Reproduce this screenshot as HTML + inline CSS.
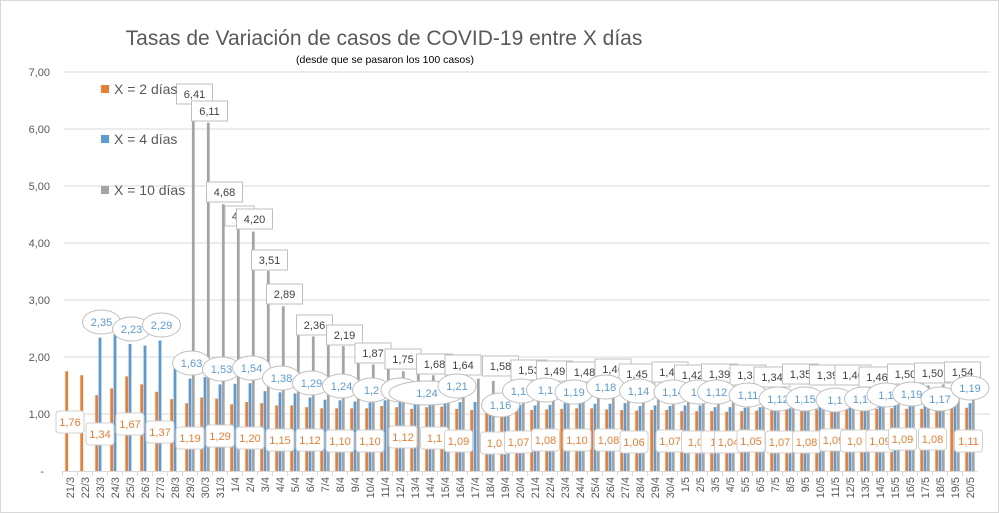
<!DOCTYPE html>
<html><head><meta charset="utf-8"><style>
html,body{margin:0;padding:0;background:#fff}
body{width:999px;height:513px;overflow:hidden;font-family:"Liberation Sans",sans-serif}
#wrap{position:absolute;left:0;top:0;width:997px;height:511px;border:1px solid #d9d9d9}
</style></head><body>
<div id="wrap"></div>
<svg id="chart" width="999" height="513" style="position:absolute;left:0;top:0"></svg>
<script>
const dates=["21/3","22/3","23/3","24/3","25/3","26/3","27/3","28/3","29/3","30/3","31/3","1/4","2/4","3/4","4/4","5/4","6/4","7/4","8/4","9/4","10/4","11/4","12/4","13/4","14/4","15/4","16/4","17/4","18/4","19/4","20/4","21/4","22/4","23/4","24/4","25/4","26/4","27/4","28/4","29/4","30/4","1/5","2/5","3/5","4/5","5/5","6/5","7/5","8/5","9/5","10/5","11/5","12/5","13/5","14/5","15/5","16/5","17/5","18/5","19/5","20/5"];
const x2=[1.75,1.68,1.33,1.45,1.66,1.52,1.39,1.26,1.19,1.29,1.27,1.17,1.21,1.19,1.15,1.15,1.12,1.10,1.10,1.10,1.10,1.14,1.12,1.09,1.12,1.13,1.09,1.07,1.06,1.05,1.07,1.07,1.08,1.09,1.10,1.10,1.08,1.07,1.06,1.07,1.07,1.05,1.05,1.05,1.04,1.05,1.06,1.07,1.08,1.08,1.08,1.09,1.09,1.09,1.09,1.10,1.09,1.09,1.08,1.10,1.11];
const x4=[0,0,2.34,2.40,2.23,2.20,2.29,1.80,1.62,1.65,1.52,1.53,1.54,1.40,1.38,1.36,1.29,1.25,1.24,1.22,1.20,1.24,1.24,1.19,1.24,1.21,1.21,1.21,1.16,1.14,1.16,1.15,1.16,1.19,1.19,1.18,1.18,1.19,1.14,1.15,1.14,1.15,1.15,1.12,1.12,1.11,1.12,1.12,1.15,1.15,1.16,1.17,1.17,1.17,1.18,1.19,1.19,1.20,1.17,1.17,1.19];
const x10=[0,0,0,0,0,0,0,0,6.41,6.11,4.68,4.25,4.20,3.51,2.89,2.64,2.36,2.29,2.19,1.96,1.87,1.80,1.75,1.70,1.68,1.65,1.64,1.62,1.58,1.55,1.53,1.51,1.49,1.48,1.48,1.47,1.46,1.45,1.45,1.46,1.46,1.44,1.42,1.39,1.36,1.33,1.33,1.34,1.35,1.35,1.37,1.39,1.40,1.43,1.46,1.48,1.50,1.50,1.52,1.54,1.54];
const yTicks=["-","1,00","2,00","3,00","4,00","5,00","6,00","7,00"];
// label texts with category position (layout) and pixel y (layout)
const lab2=[[0,"1,76",422],[2,"1,34",434],[4,"1,67",424],[6,"1,37",432],[8,"1,19",438],[10,"1,29",436],[12,"1,20",438],[14,"1,15",440],[16,"1,12",440],[18,"1,10",441],[20,"1,10",441],[22.2,"1,12",437],[24.3,"1,1",438],[25.9,"1,09",441],[28.3,"1,0",443],[29.9,"1,07",442],[31.7,"1,08",440],[33.8,"1,10",440],[35.9,"1,08",440],[37.6,"1,06",442],[40,"1,07",441],[41.7,"1,0",442],[43,"1,",442],[43.9,"1,04",442],[45.4,"1,05",441],[47.3,"1,07",442],[49.1,"1,08",442],[50.9,"1,09",440],[52.3,"1,0",441],[54,"1,09",441],[55.5,"1,09",439],[57.5,"1,08",439],[59.9,"1,11",441]];
const lab4=[[2.1,"2,35",322],[4.1,"2,23",329],[6.1,"2,29",325],[8.1,"1,63",363],[10.1,"1,53",369],[12.1,"1,54",368],[14.1,"1,38",378],[16.1,"1,29",383],[18.1,"1,24",386],[20.1,"1,2",390],[22,"1,2",390],[23.8,"1,24",393],[25.8,"1,21",386],[28.7,"1,16",405],[30.1,"1,14",391],[31.7,"1,1",390],[33.6,"1,19",392],[35.7,"1,18",387],[37.9,"1,14",391],[40.2,"1,14",392],[41.9,"1,1",392],[43.1,"1,12",392],[45.2,"1,11",395],[47.2,"1,12",399],[49,"1,15",399],[51,"1,1",400],[52.9,"1,17",399],[54.4,"1,1",395],[56.1,"1,19",394],[58,"1,17",399],[60,"1,19",388]];
const lab10=[[8.3,"6,41",94],[9.3,"6,11",111],[10.3,"4,68",192],[11.3,"4,2",216],[12.3,"4,20",219],[13.3,"3,51",260],[14.3,"2,89",294],[16.3,"2,36",325],[18.3,"2,19",335],[20.2,"1,87",353],[22.2,"1,75",359],[24.3,"1,68",364],[26.2,"1,64",365],[28.7,"1,58",366],[30.6,"1,53",370],[32.3,"1,49",371],[34.3,"1,48",372],[36.2,"1,46",369],[37.8,"1,45",374],[40,"1,46",372],[41.5,"1,42",375],[43.3,"1,39",374],[45.2,"1,33",375],[46.8,"1,34",377],[48.7,"1,35",374],[50.5,"1,39",375],[52.2,"1,40",375],[53.8,"1,46",377],[55.7,"1,50",374],[57.5,"1,50",373],[59.5,"1,54",372]];

const svg=document.getElementById('chart');const NS='http://www.w3.org/2000/svg';
const X0=62.5,CW=15,Y0=471,PU=57;
const cx=i=>X0+CW*(i+0.5);
const y=v=>Y0-v*PU;
function mk(t,a,parent){const e=document.createElementNS(NS,t);for(const k in a)e.setAttribute(k,a[k]);(parent||svg).appendChild(e);return e;}
// title
let t=mk('text',{x:384,y:45,'text-anchor':'middle','font-size':21,fill:'#595959'});t.textContent='Tasas de Variación de casos de COVID-19 entre X días';


t=mk('text',{x:385,y:63,'text-anchor':'middle','font-size':10.5,fill:'#000'});t.textContent='(desde que se pasaron los 100 casos)';


// grid + y labels
yTicks.forEach((s,i)=>{
  if(i>0){const g=mk('line',{x1:64,x2:990,y1:y(i),y2:y(i),stroke:'#d9d9d9','stroke-width':1});
  
  }
  const l=mk('text',{x:i==0?44:50,y:y(i)+4,'text-anchor':'end','font-size':11,fill:'#595959'});l.textContent=s;
  
  
});
// axis
let ax=mk('line',{x1:X0,x2:X0+CW*dates.length,y1:Y0+0.5,y2:Y0+0.5,stroke:'#d9d9d9'});


dates.forEach((d,i)=>{
  const tk=mk('line',{x1:X0+CW*i,x2:X0+CW*i,y1:Y0,y2:Y0+5,stroke:'#d9d9d9'});
  
  
  const l=mk('text',{x:0,y:0,'text-anchor':'end','font-size':11,fill:'#595959',transform:`translate(${cx(i)+4},${Y0+6}) rotate(-90)`});l.textContent=d;
  
  
});
// bars
const series=[[x2,'#ED7D31',-3.3,'bar-2-dias'],[x4,'#5B9BD5',0,'bar-4-dias'],[x10,'#A5A5A5',3.3,'bar-10-dias']];
series.forEach(([arr,col,off,nm])=>arr.forEach((v,i)=>{
  if(v<=0)return;
  const b=mk('rect',{x:cx(i)+off-1.4,y:y(v),width:2.8,height:v*PU,fill:col});
  
  
}));
// labels
lab10.forEach(([p,s,py])=>{
  const w=s.length*7+8;
  const r=mk('rect',{x:cx(p)-w/2,y:py-10,width:w,height:20,fill:'#fff',stroke:'#bfbfbf'});
  
  
  const l=mk('text',{x:cx(p),y:py+4,'text-anchor':'middle','font-size':11,fill:'#404040'});l.textContent=s;
  
  
});
lab4.forEach(([p,s,py])=>{
  const e=mk('ellipse',{cx:cx(p),cy:py,rx:s=="1,24"&&p>23&&p<24?38:19,ry:12,fill:'#fff',stroke:'#bfbfbf'});
  
  
  const l=mk('text',{x:cx(p),y:py+4,'text-anchor':'middle','font-size':11,fill:'#5B9BD5'});l.textContent=s;
  
  
});
lab2.forEach(([p,s,py])=>{
  const r=mk('rect',{x:cx(p)-14,y:py-11,width:28,height:22,rx:3,fill:'#fff',stroke:'#d0d0d0'});
  
  
  const l=mk('text',{x:cx(p),y:py+4,'text-anchor':'middle','font-size':11,fill:'#ED7D31'});l.textContent=s;
  
  
});
// legend
[['X = 2 días','#ED7D31',89],['X = 4 días','#5B9BD5',139],['X = 10 días','#A5A5A5',190]].forEach(([s,c,py])=>{
  const g=mk('g',{});
  
  
  mk('rect',{x:101,y:py-4,width:8,height:8,fill:c},g);
  const l=mk('text',{x:114,y:py+5,'font-size':14,fill:'#595959'},g);l.textContent=s;
});
</script>
</body></html>
